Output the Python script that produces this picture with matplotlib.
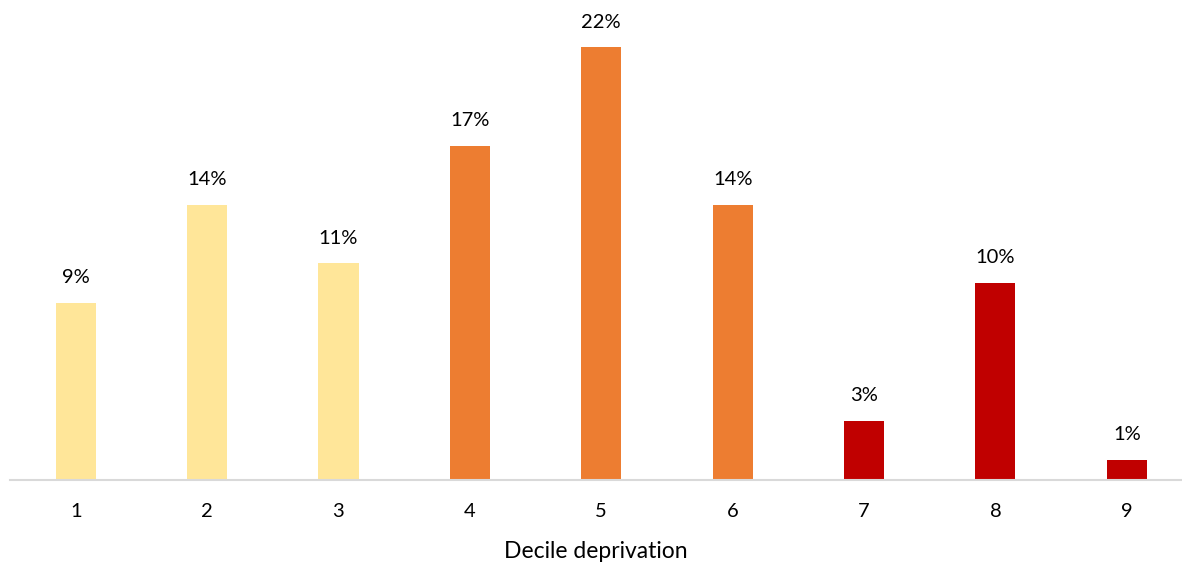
import matplotlib.pyplot as plt

deciles = ['1', '2', '3', '4', '5', '6', '7', '8', '9']
shares = [9, 14, 11, 17, 22, 14, 3, 10, 1]
bar_colors = ['#FFE699'] * 3 + ['#ED7D31'] * 3 + ['#C00000'] * 3

plt.rcParams['font.family'] = ['Lato', 'DejaVu Sans']

fig = plt.figure(figsize=(11.82, 5.64), dpi=100)
# axes placed in pixel terms: baseline at y=479.5, left edge at x=10
ax = fig.add_axes([10 / 1182, (564 - 479.5) / 564, 1172 / 1182, 471 / 564])

x = list(range(1, len(deciles) + 1))
bars = ax.bar(x, shares, width=0.305, color=bar_colors, zorder=2)

for xi, v in zip(x, shares):
    ax.annotate(f'{v}%', (xi, v), xytext=(0, 12), textcoords='offset points',
                ha='center', va='bottom', fontsize=14.5, color='#000000')

ax.set_xlim(0.5, 9.42)
ax.set_ylim(0, 23.98)
ax.set_xticks(x)
ax.set_xticklabels(deciles, fontsize=14.5)
ax.tick_params(axis='x', length=0, pad=17)
ax.set_yticks([])
for side in ['top', 'right', 'left']:
    ax.spines[side].set_visible(False)
ax.spines['bottom'].set_color('#D9D9D9')
ax.spines['bottom'].set_linewidth(1.5)

ax.set_xlabel('Decile deprivation', fontsize=16.5, labelpad=15)

fig.savefig('out.png', dpi=100)
